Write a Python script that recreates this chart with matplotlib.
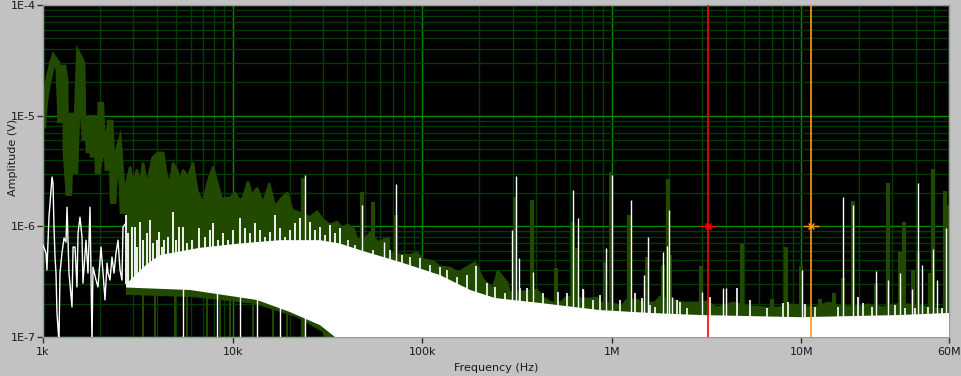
import numpy as np
import matplotlib.pyplot as plt
from matplotlib.ticker import FixedLocator, LogLocator, NullFormatter

# ---- DATA (frequency in kHz, amplitude in uV) ----
# green trace, low-frequency part
green_lf_f = [1.0, 1.025, 1.06, 1.12, 1.14, 1.185, 1.21, 1.24, 1.275, 1.31,
              1.32, 1.37, 1.42, 1.475, 1.51, 1.55, 1.61, 1.625, 1.665, 1.71,
              1.75, 1.81, 1.835, 1.88, 1.93, 1.95, 2.02, 2.07, 2.15, 2.2,
              2.26, 2.31, 2.34, 2.43, 2.52, 2.61, 2.64, 2.74]
green_lf_a = [8.2, 13.8, 19.7, 30, 33, 30, 26, 8.6, 28.7, 21,
              4.6, 1.9, 10.6, 3.0, 9.7, 34, 30, 10.6, 6.0, 9.7,
              4.6, 10.1, 4.2, 9.7, 6.4, 3.0, 13.3, 4.9, 6.0, 3.2,
              9.1, 4.0, 1.6, 4.2, 5.2, 2.3, 1.3, 2.3]

# green trace, noisy part: upper and lower envelope
green_top_f = [2.74, 2.88, 2.98, 3.13, 3.25, 3.37, 3.54, 3.67, 3.8, 4.04,
               4.3, 4.46, 4.68, 4.85, 5.09, 5.28, 5.48, 5.82, 6.18, 6.49,
               6.98, 7.41, 7.88, 8.27, 8.79, 9.12, 9.68, 10.3, 10.9, 11.35,
               12.05, 12.65, 13.45, 14.5, 15.6, 16.7, 18.2, 19.4, 20.6, 21.9,
               24.1, 25.6, 27.9, 30.0, 32.7, 35.6, 38.2, 40.1, 43.2, 45.3,
               51.2, 53.1, 58.5, 65.2, 67.6, 76.4, 86.3, 94, 101, 114,
               124, 140, 155, 174, 190, 209, 236, 251, 280, 290,
               340, 403, 434, 484, 546, 580, 740, 836, 867, 1066,
               1132, 1203, 1358, 1444, 1690, 1796, 2374, 2814, 3178, 3589,
               4358, 5358, 6668, 7527, 8923, 10440, 11800, 13810, 16380, 20880,
               22460, 26940, 31170, 36500, 43800, 55150, 60000]
green_top_a = [2.3, 3.4, 2.3, 3.2, 2.3, 3.7, 2.3, 3.2, 4.2, 4.6,
               4.6, 3.0, 2.3, 3.7, 3.2, 2.5, 3.2, 2.8, 3.7, 2.1,
               1.6, 2.5, 3.4, 2.5, 1.7, 1.8, 1.8, 2.0, 1.7, 1.8,
               2.5, 1.9, 2.2, 1.6, 2.4, 1.5, 1.8, 2.0, 1.4, 1.35,
               1.26, 1.2, 1.35, 1.14, 1.03, 1.09, 0.93, 1.03, 0.97, 0.75,
               0.80, 0.87, 0.71, 0.78, 0.57, 0.55, 0.55, 0.57, 0.50, 0.48,
               0.43, 0.42, 0.38, 0.43, 0.47, 0.33, 0.27, 0.39, 0.31, 0.25,
               0.256, 0.266, 0.225, 0.203, 0.207, 0.23, 0.22, 0.225, 0.203, 0.195,
               0.187, 0.216, 0.216, 0.203, 0.203, 0.23, 0.203, 0.203, 0.207, 0.183,
               0.203, 0.187, 0.183, 0.183, 0.195, 0.187, 0.183, 0.203, 0.187, 0.187,
               0.195, 0.183, 0.195, 0.195, 0.187, 0.175, 0.187]
green_bot_f = [2.74, 6.0, 13.0, 22.0, 30.0, 34.0, 60000]
green_bot_a = [0.24, 0.23, 0.2, 0.15, 0.11, 0.05, 0.05]

# green spurs
green_spk_f = [23.5, 48.1, 55.0, 66.0, 72.8, 251, 309, 380, 508, 624,
               656, 921, 990, 1232, 1534, 1862, 1979, 2028, 2955, 4861,
               6998, 8296, 9955, 12530, 14860, 16580, 18710, 24750, 28640, 33100,
               34750, 38790, 41210, 47660, 49430, 57150, 58600]
green_spk_a = [2.73, 2.04, 1.66, 0.78, 1.26, 0.39, 1.84, 1.73, 0.42, 1.09,
               0.64, 0.48, 3.09, 1.26, 0.53, 0.45, 2.68, 0.55, 0.44, 0.69,
               0.22, 0.65, 0.44, 0.22, 0.25, 0.34, 1.69, 0.31, 2.46, 0.59,
               1.09, 0.40, 0.59, 0.38, 3.29, 2.08, 1.56]
# green dips reaching the bottom
green_dip_f = [3.37, 3.9, 4.97, 5.75, 7.33, 8.58, 9.68, 12.8, 16.3, 19.4, 23.5, 30.7]
green_dip_a = [0.3, 0.3, 0.3, 0.3, 0.28, 0.28, 0.26, 0.25, 0.22, 0.2, 0.18, 0.15]

# white trace, low-frequency part
white_lf_f = [1.0, 1.037, 1.049, 1.075, 1.116, 1.129, 1.143, 1.157, 1.171, 1.185,
              1.214, 1.229, 1.259, 1.291, 1.322, 1.339, 1.371, 1.422, 1.44, 1.475,
              1.511, 1.53, 1.567, 1.606, 1.625, 1.686, 1.727, 1.77, 1.813, 1.835,
              1.904, 1.95, 2.023, 2.073, 2.123, 2.176, 2.203, 2.256, 2.311, 2.369,
              2.427, 2.487, 2.548, 2.61, 2.642, 2.74]
white_lf_a = [0.678, 0.574, 0.403, 1.21, 2.79, 2.46, 0.986, 0.528, 0.378, 0.165,
              0.09, 0.378, 0.574, 0.784, 0.721, 1.49, 0.378, 0.187, 0.65, 0.65,
              0.283, 0.87, 1.21, 0.80, 0.307, 0.75, 0.378, 1.49, 0.09, 0.429,
              0.327, 0.283, 0.65, 0.378, 0.216, 0.466, 0.378, 0.327, 0.528, 0.378,
              0.574, 0.75, 0.403, 0.327, 0.986, 1.07]

# white trace, noise body
white_top_f = [2.74, 3.5, 4.14, 6.73, 10.9, 17.8, 28.9, 36.8, 47.0, 76.4,
               124, 179, 242, 418, 867, 1592, 2918, 9840, 33100, 60000]
white_top_a = [0.30, 0.45, 0.55, 0.64, 0.70, 0.75, 0.75, 0.70, 0.61, 0.476,
               0.363, 0.266, 0.225, 0.203, 0.175, 0.165, 0.158, 0.151, 0.158, 0.165]
white_bot_f = [2.74, 5.96, 13.45, 20.1, 28.9, 34.7, 40.0, 60000]
white_bot_a = [0.28, 0.266, 0.216, 0.168, 0.128, 0.1, 0.05, 0.05]

# white noise lines on top of the body (3k - 40k)
white_nz_f = [2.74, 2.81, 2.95, 3.06, 3.13, 3.25, 3.37, 3.54, 3.67, 3.80,
              4.00, 4.09, 4.24, 4.35, 4.56, 4.85, 5.03, 5.21, 5.48, 5.75,
              6.11, 6.65, 7.15, 7.60, 7.88, 8.37, 8.9, 9.46, 10.05, 10.94,
              11.62, 12.35, 13.13, 13.95, 14.82, 15.75, 16.74, 17.78, 18.9, 20.08,
              21.34, 22.67, 25.6, 27.2, 28.9, 30.7, 32.7, 34.7, 36.8]
white_nz_a = [1.26, 0.87, 0.99, 0.99, 0.65, 1.09, 0.75, 0.87, 1.14, 0.71,
              0.75, 0.89, 0.65, 0.75, 0.80, 1.35, 0.75, 0.99, 0.99, 0.71,
              0.75, 0.965, 0.80, 0.93, 1.07, 0.75, 0.87, 0.75, 0.93, 1.19,
              0.965, 0.87, 1.07, 0.93, 0.80, 0.89, 1.26, 0.965, 0.80, 0.93,
              1.07, 1.19, 1.09, 0.93, 0.99, 0.83, 1.03, 0.87, 0.965]

# white spurs and small noise teeth (drawn from the bottom)
white_spk_f = [5.48, 8.27, 10.94, 13.45, 17.8, 24.1, 48.1, 62.9, 72.8, 298,
               312, 324, 384, 624, 664, 705, 932, 1002, 1263, 1479,
               1552, 1862, 1955, 2004, 2078, 2990, 3860, 4003, 10070, 16580,
               18710, 24750, 28640, 33100, 38320, 41210, 43250, 49430, 51880, 57900]
white_spk_a = [0.6, 0.55, 0.6, 0.5, 0.5, 2.91, 1.56, 0.72, 2.41, 0.93,
               2.85, 0.52, 0.39, 2.13, 1.19, 0.27, 0.64, 2.91, 1.73, 0.36,
               0.80, 0.59, 0.66, 1.40, 0.23, 0.255, 0.28, 0.28, 0.40, 1.84,
               1.56, 0.395, 0.33, 0.38, 0.27, 2.46, 0.45, 0.62, 0.33, 0.97]
white_tooth_f = [40.6, 44.2, 55.0, 67.6, 78.2, 86.3, 97.3, 110, 124, 135,
                 152.6, 172, 192, 220, 242, 273, 328, 357, 434, 520,
                 580, 705, 796, 867, 1105, 1326, 1444, 1591, 1690, 2207,
                 2289, 2493, 3295, 4574, 5358, 6585, 7998, 8500, 10440, 11800,
                 15600, 19890, 21130, 23570, 31170, 35200, 39720, 46530, 55150]
white_tooth_a = [0.752, 0.678, 0.611, 0.611, 0.551, 0.528, 0.518, 0.447, 0.429, 0.403,
                 0.348, 0.363, 0.438, 0.307, 0.283, 0.25, 0.277, 0.277, 0.25, 0.256,
                 0.25, 0.272, 0.216, 0.24, 0.216, 0.25, 0.225, 0.195, 0.187, 0.216,
                 0.207, 0.183, 0.23, 0.277, 0.216, 0.183, 0.203, 0.207, 0.199, 0.187,
                 0.187, 0.23, 0.203, 0.187, 0.195, 0.183, 0.183, 0.187, 0.183]

# cursors (kHz, uV)
cursor_f = [3214, 11270]
cursor_a = [1.0, 1.0]
cursor_col = ["#ff0000", "#ff9a1e"]

xtick_vals = [1e3, 1e4, 1e5, 1e6, 1e7, 6e7]
xtick_labels = ["1k", "10k", "100k", "1M", "10M", "60M"]
ytick_vals = [1e-7, 1e-6, 1e-5, 1e-4]
ytick_labels = ["1E-7", "1E-6", "1E-5", "1E-4"]

kHz = 1e3
uV = 1e-6
GREEN = "#214a00"
BOTTOM = 1e-9
NOISE_LO = 0.3 * uV


def hz(v):
    return np.asarray(v, dtype=float) * kHz


def volt(v):
    return np.asarray(v, dtype=float) * uV


# ---- PLOT ----
fig = plt.figure(figsize=(9.61, 3.76), dpi=100, facecolor="#c2c2c2")
ax = fig.add_axes([43 / 961, 39 / 376, 906 / 961, 332 / 376])
ax.set_facecolor("black")
ax.set_xscale("log")
ax.set_yscale("log")
ax.set_xlim(1e3, 6e7)
ax.set_ylim(1e-7, 1e-4)

# grid
ax.xaxis.set_major_locator(FixedLocator(xtick_vals))
ax.xaxis.set_minor_locator(LogLocator(base=10, subs=range(2, 10), numticks=20))
ax.yaxis.set_major_locator(FixedLocator(ytick_vals))
ax.yaxis.set_minor_locator(LogLocator(base=10, subs=range(2, 10), numticks=20))
ax.xaxis.set_minor_formatter(NullFormatter())
ax.yaxis.set_minor_formatter(NullFormatter())
ax.set_xticklabels(xtick_labels)
ax.set_yticklabels(ytick_labels)
ax.grid(which="major", color="#008a00", lw=1.0, zorder=0)
ax.grid(which="minor", color="#003c00", lw=1.0, zorder=0)
ax.set_axisbelow(True)
ax.tick_params(which="minor", length=0)
ax.tick_params(which="major", length=4, width=1, color="#303030",
               labelsize=8, labelcolor="#1a1a1a")
ax.tick_params(axis="x", pad=3)
ax.tick_params(axis="y", pad=1)
for s in ax.spines.values():
    s.set_color("#9a9a9a")
    s.set_linewidth(1)

# green trace
ax.plot(hz(green_lf_f), volt(green_lf_a), color=GREEN, lw=4.6,
        solid_joinstyle="miter", zorder=2)
poly_f = np.concatenate([hz(green_top_f), hz(green_bot_f)[::-1]])
poly_a = np.concatenate([volt(green_top_a), volt(green_bot_a)[::-1]])
ax.fill(poly_f, poly_a, color=GREEN, lw=0, zorder=2)
ax.plot(hz(green_top_f), volt(green_top_a), color=GREEN, lw=2.0, zorder=2)
ax.vlines(hz(green_spk_f), BOTTOM, volt(green_spk_a), color=GREEN, lw=3.0, zorder=2)
ax.vlines(hz(green_dip_f), BOTTOM, volt(green_dip_a), color=GREEN, lw=1.5, zorder=2)

# white trace
ax.plot(hz(white_lf_f), volt(white_lf_a), color="white", lw=1.0, zorder=3)
poly_f = np.concatenate([hz(white_top_f), hz(white_bot_f)[::-1]])
poly_a = np.concatenate([volt(white_top_a), volt(white_bot_a)[::-1]])
ax.fill(poly_f, poly_a, color="white", lw=0, zorder=3)
ax.vlines(hz(white_nz_f), NOISE_LO, volt(white_nz_a), color="white", lw=1.3, zorder=3)
ax.vlines(hz(white_spk_f), BOTTOM, volt(white_spk_a), color="white", lw=1.0, zorder=3)
ax.vlines(hz(white_tooth_f), BOTTOM, volt(white_tooth_a), color="white", lw=1.2, zorder=3)

# cursors
for f, a, c in zip(cursor_f, cursor_a, cursor_col):
    ax.axvline(f * kHz, color=c, lw=1.2, zorder=5)
    ax.plot([f * kHz], [a * uV], marker="x", ms=5, mew=1.0, color=c, zorder=6)
    ax.plot([f * kHz], [a * uV], marker="_", ms=11, mew=1.0, color=c, zorder=6)

fig.text(496 / 961, 1 - 368 / 376, "Frequency (Hz)", ha="center", va="center",
         fontsize=8, color="#1a1a1a")
fig.text(13 / 961, 1 - 157 / 376, "Amplitude (V)", ha="center", va="center",
         rotation=90, fontsize=8, color="#1a1a1a", zorder=0)

fig.savefig("out.png", dpi=100, facecolor=fig.get_facecolor())
